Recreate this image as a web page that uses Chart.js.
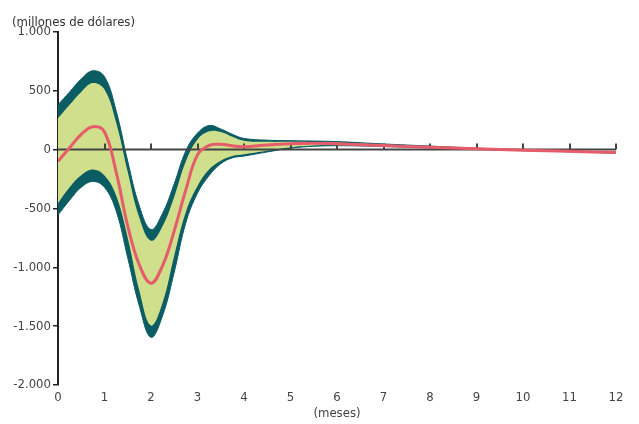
<!DOCTYPE html>
<html>
<head>
<meta charset="utf-8">
<script src="https://cdn.jsdelivr.net/npm/chart.js@4.4.1/dist/chart.umd.min.js"></script>
<style>
  body { margin: 0; background: #fff; }
  #wrap { width: 639px; height: 424px; }
</style>
</head>
<body>
<div id="wrap"><canvas id="g_impulso"></canvas></div>
<script>
// meses (eje x)
const meses = [0, 0.25, 0.5, 0.75, 1, 1.25, 1.5, 1.75, 2, 2.25, 2.5, 2.75, 3, 3.25, 3.5, 3.75, 4, 4.5, 5, 5.5, 6, 7, 8, 9, 10, 11, 12];
// respuesta central
const respuesta = [-100, 15, 130, 195, 150, -190, -650, -980, -1135, -985, -690, -340, -45, 35, 45, 32, 25, 40, 50, 55, 50, 34, 20, 8, -5, -15, -25];
// bandas internas
const bandaSupInt = [265, 380, 490, 565, 510, 230, -190, -580, -775, -650, -400, -100, 85, 155, 150, 110, 76, 66, 66, 64, 60, 42, 26, 10, -4, -14, -22];
const bandaInfInt = [-455, -320, -218, -170, -220, -390, -750, -1200, -1495, -1300, -900, -530, -310, -170, -95, -55, -40, -10, 20, 35, 38, 28, 16, 4, -8, -18, -28];
// bandas externas
const bandaSupExt = [380, 490, 600, 670, 620, 330, -100, -480, -680, -540, -290, -10, 140, 205, 175, 130, 95, 80, 76, 73, 68, 48, 30, 12, -2, -12, -20];
const bandaInfExt = [-555, -430, -320, -270, -320, -520, -920, -1330, -1595, -1410, -1040, -620, -370, -220, -120, -70, -55, -20, 12, 28, 33, 26, 14, 3, -9, -19, -30];
const ticksY = [-2000, -1500, -1000, -500, 0, 500, 1000];

const fuente = '"DejaVu Sans Condensed", "Liberation Sans Narrow", sans-serif';
const teal = '#0b5c63';
const verde = '#cfdf8c';
const rojo = '#e65c6b';

function puntos(arr) {
    return meses.map((m, i) => ({ x: m, y: arr[i] }));
}
function formato(v) {
    const s = Math.abs(v).toString().replace(/\B(?=(\d{3})+(?!\d))/g, '.');
    return (v < 0 ? '-' : '') + s;
}

// linea de cero con marcas hacia arriba
const lineaCero = {
    id: 'lineaCero',
    beforeDatasetDraw(chart, args) {
        if (args.index !== 0) return;
        const x = chart.scales.x, y = chart.scales.y;
        const ctx = chart.ctx;
        const y0 = y.getPixelForValue(0);
        ctx.save();
        ctx.strokeStyle = '#444';
        ctx.lineWidth = 2;
        ctx.beginPath();
        ctx.moveTo(x.getPixelForValue(0), y0);
        ctx.lineTo(x.getPixelForValue(12), y0);
        for (let m = 1; m <= 12; m++) {
            const px = Math.round(x.getPixelForValue(m));
            ctx.moveTo(px, y0);
            ctx.lineTo(px, y0 - 6);
        }
        ctx.stroke();
        ctx.restore();
    }
};

const ctx = document.getElementById('g_impulso').getContext('2d');
const g_impulso = new Chart(ctx, {
    type: 'line',
    data: {
        datasets: [{
            label: 'Respuesta',
            data: puntos(respuesta),
            borderColor: rojo,
            borderWidth: 3,
            pointRadius: 0,
            fill: false,
            order: 1
        }, {
            label: 'Banda interna sup',
            data: puntos(bandaSupInt),
            borderWidth: 0,
            borderColor: verde,
            backgroundColor: verde,
            pointRadius: 0,
            fill: '+1',
            order: 2
        }, {
            label: 'Banda interna inf',
            data: puntos(bandaInfInt),
            borderWidth: 0,
            borderColor: verde,
            pointRadius: 0,
            fill: false,
            order: 2
        }, {
            label: 'Banda externa sup',
            data: puntos(bandaSupExt),
            borderWidth: 1,
            borderColor: teal,
            backgroundColor: teal,
            pointRadius: 0,
            fill: '+1',
            order: 3
        }, {
            label: 'Banda externa inf',
            data: puntos(bandaInfExt),
            borderWidth: 1,
            borderColor: teal,
            pointRadius: 0,
            fill: false,
            order: 3
        }]
    },
    options: {
        responsive: true,
        maintainAspectRatio: false,
        animation: false,
        elements: { line: { tension: 0.4 } },
        layout: { padding: { left: 12, right: 23, top: 0, bottom: 0 } },
        plugins: {
            legend: { display: false },
            tooltip: { enabled: false },
            title: {
                display: true,
                text: '(millones de dólares)',
                align: 'start',
                color: '#333',
                font: { family: fuente, size: 13, weight: 'normal', lineHeight: 1.3 },
                padding: { top: 14, bottom: 1 }
            }
        },
        scales: {
            x: {
                type: 'linear',
                min: 0,
                max: 12,
                afterFit(scale) { scale.height = 39; },
                grid: { display: false, drawTicks: false, tickLength: 0 },
                border: { display: false },
                ticks: {
                    stepSize: 1,
                    color: '#444',
                    padding: 4,
                    font: { family: fuente, size: 13, lineHeight: 1.3 }
                },
                title: {
                    display: true,
                    text: '(meses)',
                    color: '#444',
                    font: { family: fuente, size: 13, lineHeight: 1.3 },
                    padding: { top: 0, bottom: 2 }
                }
            },
            y: {
                min: -2000,
                max: 1000,
                afterFit(scale) { scale.width = 46; },
                afterBuildTicks(scale) { scale.ticks = ticksY.map(v => ({ value: v })); },
                grid: {
                    drawOnChartArea: false,
                    drawTicks: true,
                    tickLength: 5,
                    color: '#222',
                    lineWidth: 1.5
                },
                border: { display: true, color: '#222', width: 2 },
                ticks: {
                    color: '#444',
                    padding: 2,
                    font: { family: fuente, size: 13 },
                    callback: v => formato(v)
                }
            }
        }
    },
    plugins: [lineaCero]
});
</script>
</body>
</html>
